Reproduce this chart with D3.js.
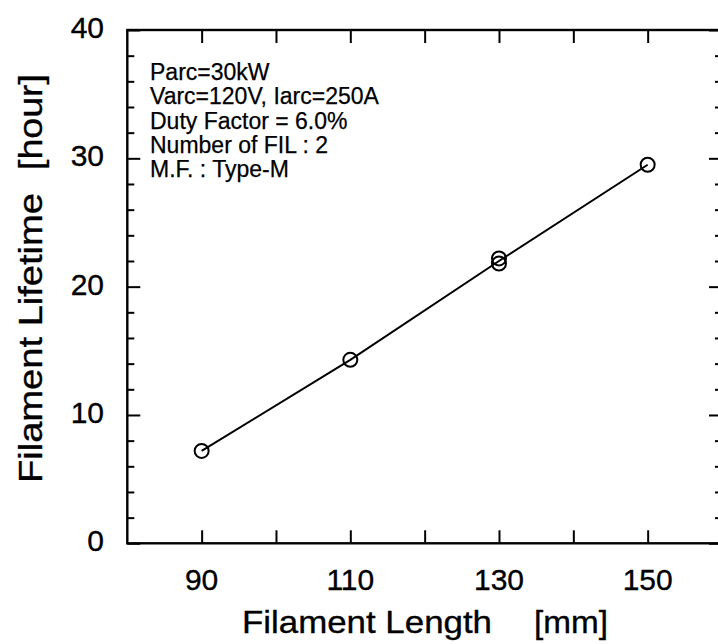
<!DOCTYPE html>
<html><head><meta charset="utf-8">
<script src="https://cdn.jsdelivr.net/npm/d3@7"></script>
<style>html,body{margin:0;padding:0;background:#fff;}svg{display:block;}</style>
</head><body>
<svg id="chart" width="718" height="644"></svg>
<script>
// Data
const lengthsMM = [90, 110, 130, 130, 150];
const lifetimeHours = [7.2, 14.3, 22.2, 21.8, 29.5];
const fitLengths = [90, 110, 130, 150];
const fitLifetimes = [7.2, 14.3, 22.0, 29.5];
const xTickValues = [90, 100, 110, 120, 130, 140, 150];
const xTickLabels = ["90", "", "110", "", "130", "", "150"];
const yTickValues = [0, 10, 20, 30, 40];
const yTickLabels = ["0", "10", "20", "30", "40"];
const annotationLines = ["Parc=30kW", "Varc=120V, Iarc=250A", "Duty Factor = 6.0%", "Number of FIL : 2", "M.F. : Type-M"];

const svg = d3.select("#chart");
const font = "'Liberation Sans', Arial, Helvetica, sans-serif";
const plotL = 127.3, plotR = 722, plotT = 30, plotB = 543.3;

const x = d3.scaleLinear().domain([80, 160]).range([plotL, plotR]);
const y = d3.scaleLinear().domain([0, 40]).range([plotB, plotT]);

// Frame
svg.append("rect").attr("x", plotL).attr("y", plotT).attr("width", plotR - plotL).attr("height", plotB - plotT)
  .attr("fill", "none").attr("stroke", "#000").attr("stroke-width", 2.4);

const majorLen = 13, minorLen = 7;
const yMinor = d3.range(0, 41, 2).filter(v => v % 10 !== 0);

function styleAxis(g) { g.select(".domain").remove(); g.selectAll("line").attr("stroke", "#000").attr("stroke-width", 2); g.selectAll("text").remove(); }

svg.append("g").attr("transform", `translate(0,${plotB})`)
  .call(d3.axisBottom(x).tickValues(xTickValues).tickSize(-majorLen)).call(styleAxis);
svg.append("g").attr("transform", `translate(0,${plotT})`)
  .call(d3.axisTop(x).tickValues(xTickValues).tickSize(-majorLen)).call(styleAxis);
svg.append("g").attr("transform", `translate(${plotL},0)`)
  .call(d3.axisLeft(y).tickValues(yTickValues).tickSize(-majorLen)).call(styleAxis);
svg.append("g").attr("transform", `translate(${plotL},0)`)
  .call(d3.axisLeft(y).tickValues(yMinor).tickSize(-minorLen)).call(styleAxis);
svg.append("g").attr("transform", `translate(${plotR},0)`)
  .call(d3.axisRight(y).tickValues(yTickValues).tickSize(-majorLen)).call(styleAxis);
svg.append("g").attr("transform", `translate(${plotR},0)`)
  .call(d3.axisRight(y).tickValues(yMinor).tickSize(-minorLen)).call(styleAxis);

const textStyle = s => s.attr("font-family", font).attr("fill", "#000")
  .attr("stroke", "#000").attr("stroke-width", 0.35);

// Tick labels
svg.append("g").selectAll("text").data(xTickValues).join("text")
  .attr("x", d => x(d)).attr("y", 590)
  .attr("text-anchor", "middle").attr("font-size", 30).call(textStyle)
  .text((d, i) => xTickLabels[i]);
svg.append("g").selectAll("text").data(yTickValues).join("text")
  .attr("x", 104).attr("y", d => y(d) + 8)
  .attr("text-anchor", "end").attr("font-size", 30).call(textStyle)
  .text((d, i) => yTickLabels[i]);

// Axis titles
svg.append("text").attr("x", 242).attr("y", 633).attr("font-size", 32)
  .attr("textLength", 250).attr("lengthAdjust", "spacingAndGlyphs").call(textStyle)
  .text("Filament Length");
svg.append("text").attr("x", 534).attr("y", 633).attr("font-size", 32)
  .attr("textLength", 74).attr("lengthAdjust", "spacingAndGlyphs").call(textStyle)
  .text("[mm]");
svg.append("text").attr("transform", "translate(42,483) rotate(-90)").attr("font-size", 33)
  .attr("textLength", 290).attr("lengthAdjust", "spacingAndGlyphs").call(textStyle)
  .text("Filament Lifetime");
svg.append("text").attr("transform", "translate(42,170) rotate(-90)").attr("font-size", 33)
  .attr("textLength", 96).attr("lengthAdjust", "spacingAndGlyphs").call(textStyle)
  .text("[hour]");

// Annotation
svg.append("g").selectAll("text").data(annotationLines).join("text")
  .attr("x", 150).attr("y", (d, i) => 80 + i * 24.3)
  .attr("font-size", 23).call(textStyle).attr("stroke-width", 0.25).text(d => d);

// Line
const line = d3.line().x((d, i) => x(fitLengths[i])).y(d => y(d));
svg.append("path").datum(fitLifetimes).attr("d", line)
  .attr("fill", "none").attr("stroke", "#000").attr("stroke-width", 2);

// Points
svg.append("g").selectAll("circle").data(lifetimeHours).join("circle")
  .attr("cx", (d, i) => x(lengthsMM[i])).attr("cy", d => y(d)).attr("r", 7)
  .attr("fill", "none").attr("stroke", "#000").attr("stroke-width", 2);
</script>
</body></html>
